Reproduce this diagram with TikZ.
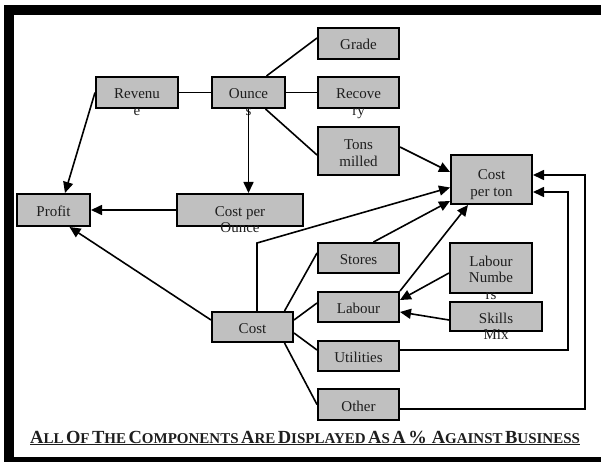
\documentclass[tikz,border=0pt]{standalone}
\usepackage{fontspec}
\setmainfont{Liberation Serif}
\usetikzlibrary{arrows.meta,calc}
\definecolor{boxgray}{RGB}{192,192,192}
\definecolor{txtgray}{RGB}{30,30,30}
\newcommand\mylines[1]{\begin{tabular}[t]{@{}c@{}}#1\end{tabular}}
\newcommand\scw[2]{{\fontsize{18.5}{18.5}\selectfont #1}{\fontsize{15}{15}\selectfont #2}}
\tikzset{
  box/.style n args={2}{draw=black, line width=2pt, fill=boxgray, inner sep=0pt,
    minimum width=#1pt, minimum height=#2pt},
  lbl/.style={font=\fontsize{15}{16.5}\selectfont, text=txtgray, inner sep=0pt, anchor=base},
  ln/.style={line width=1.6pt, draw=black},
  arr/.style={ln, -{Triangle[length=11pt,width=10pt]}},
  bar/.style={fill=black, draw=none}
}
\begin{document}
\begin{tikzpicture}[x=1pt, y=-1pt]
\useasboundingbox (0,0) rectangle (601,462);
% frame
\fill[bar] (4,5) rectangle (601,15);
\fill[bar] (4,5) rectangle (14,462);
\fill[bar] (4,457) rectangle (601,462);
% boxes
\node[box={82}{31}] (rev) at (137,92.5) {};
\node[box={73}{31}] (oun) at (248.5,92.5) {};
\node[box={81}{31}] (gra) at (358.5,43.5) {};
\node[box={81}{31}] (rec) at (358.5,92.5) {};
\node[box={81}{48}] (ton) at (358.5,151) {};
\node[box={81}{49}] (cpt) at (491.5,179.5) {};
\node[box={73}{32}] (pro) at (53.5,210) {};
\node[box={126}{32}] (cpo) at (240,210) {};
\node[box={81}{30}] (cos) at (252.5,327) {};
\node[box={81}{30}] (sto) at (358.5,258) {};
\node[box={81}{30}] (lab) at (358.5,307) {};
\node[box={81}{30}] (uti) at (358.5,356) {};
\node[box={81}{31}] (oth) at (358.5,404.5) {};
\node[box={82}{50}] (lnu) at (491,268) {};
\node[box={92}{29}] (ski) at (496,316.5) {};
% labels
\node[lbl] (trev) at ($(rev.center)+(0,6.5)$) {\mylines{Revenu\\e}};
\node[lbl] (toun) at ($(oun.center)+(0,6.5)$) {\mylines{Ounce\\s}};
\node[lbl] (tgra) at ($(gra.center)+(0,6.5)$) {Grade};
\node[lbl] (trec) at ($(rec.center)+(0,6.5)$) {\mylines{Recove\\ry}};
\node[lbl] (tton) at ($(ton.center)+(0,-1)$) {\mylines{Tons\\milled}};
\node[lbl] (tcpt) at ($(cpt.center)+(0,0.5)$) {\mylines{Cost\\per ton}};
\node[lbl] (tpro) at ($(pro.center)+(0,6)$) {Profit};
\node[lbl] (tcpo) at ($(cpo.center)+(0,6)$) {\mylines{Cost per\\Ounce}};
\node[lbl] (tcos) at ($(cos.center)+(0,6)$) {Cost};
\node[lbl] (tsto) at ($(sto.center)+(0,6)$) {Stores};
\node[lbl] (tlab) at ($(lab.center)+(0,6)$) {Labour};
\node[lbl] (tuti) at ($(uti.center)+(0,6)$) {Utilities};
\node[lbl] (toth) at ($(oth.center)+(0,6.5)$) {Other};
\node[lbl] (tlnu) at ($(lnu.center)+(0,-2)$) {\mylines{Labour\\Numbe\\rs}};
\node[lbl] (tski) at ($(ski.center)+(0,6.5)$) {\mylines{Skills\\Mix}};
% connectors
\draw[ln] (rev.east) -- (oun.west);
\draw[arr] (rev.west) -- ($(pro.north)+(11.5,0)$);
\draw[ln] ($(oun.north)+(18,0)$) -- ($(gra.west)+(0,-5.5)$);
\draw[ln] (oun.east) -- (rec.west);
\draw[ln] ($(oun.south)+(17,0)$) -- ($(ton.west)+(0,4)$);
\draw[arr] (oun.south) -- (oun.south |- cpo.north);
\draw[arr] (cpo.west) -- (pro.east);
\draw[arr] ($(cos.west)+(0,-7)$) -- ($(pro.south)+(16,0)$);
\draw[arr] ($(cos.north)+(4.5,0)$) -- ($(cos.north)+(4.5,-68)$) -- ($(cpt.west)+(0,8)$);
\draw[arr] ($(ton.east)+(0,-4)$) -- ($(cpt.west)+(0,-7.5)$);
\draw[arr] ($(sto.north)+(15,0)$) -- ($(cpt.west)+(0,21.5)$);
\draw[arr] (lab.north east) -- ($(cpt.south)+(-23.5,0)$);
\draw[arr] ($(lnu.west)+(0,5)$) -- ($(lab.east)+(0,-7)$);
\draw[arr] ($(ski.west)+(0,3.5)$) -- ($(lab.east)+(0,5)$);
\draw[ln] ($(cos.north)+(32,0)$) -- ($(sto.west)+(0,-5)$);
\draw[ln] ($(cos.east)+(0,-7)$) -- ($(lab.west)+(0,-4)$);
\draw[ln] ($(cos.east)+(0,6)$) -- ($(uti.west)+(0,-6)$);
\draw[ln] ($(cos.south)+(32,0)$) -- (oth.west);
\draw[arr] ($(uti.east)+(0,-6)$) -| ($(cpt.east)+(35,12.5)$) -- ($(cpt.east)+(0,12.5)$);
\draw[arr] ($(oth.east)+(0,4.5)$) -| ($(cpt.east)+(52,-4.5)$) -- ($(cpt.east)+(0,-4.5)$);
% footer
\node[inner sep=0pt, anchor=base west, text=txtgray, font=\bfseries] (foot) at (30,443)
  {\underline{\scw{A}{LL} \scw{O}{F} \scw{T}{HE} \scw{C}{OMPONENTS} \scw{A}{RE} \scw{D}{ISPLAYED} \scw{A}{S} \scw{A}{} \scw{\%}{}\ \ \scw{A}{GAINST} \scw{B}{USINESS}}};
\end{tikzpicture}
\end{document}
